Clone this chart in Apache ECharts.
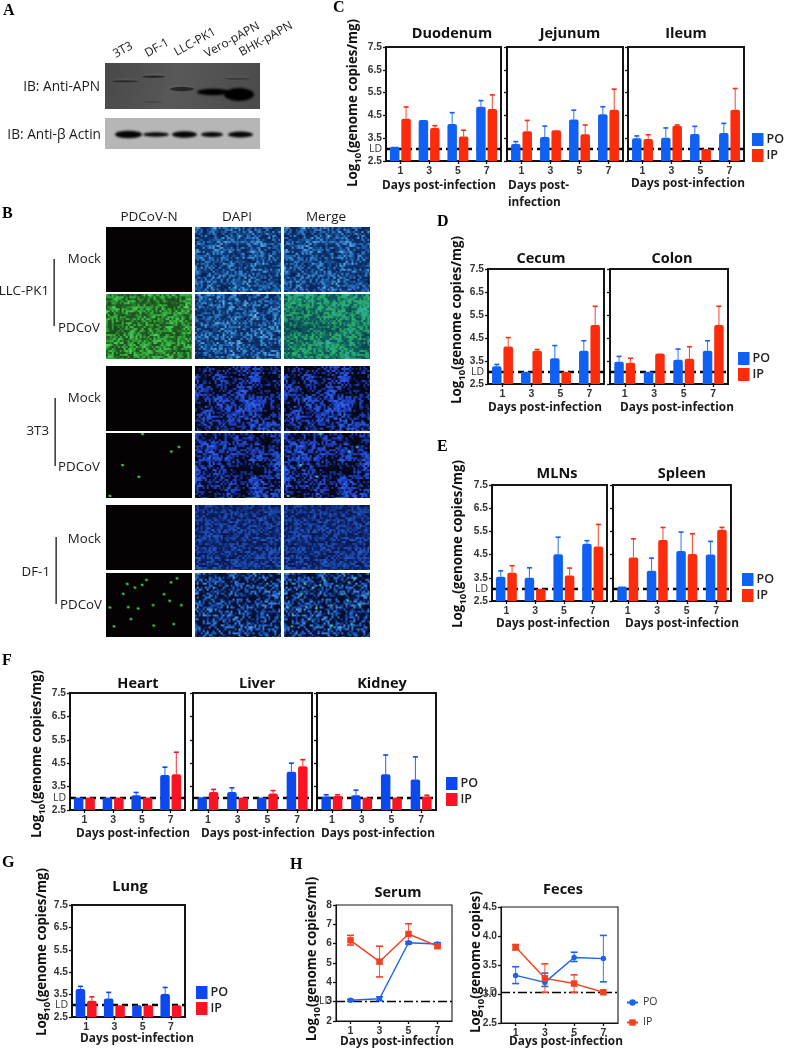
<!DOCTYPE html>
<html><head><meta charset="utf-8">
<style>html,body{margin:0;padding:0;background:#fff}#c{width:785px;height:1050px}</style>
<script src="https://cdn.jsdelivr.net/npm/echarts@6/dist/echarts.min.js"></script>
</head><body><div id="c"></div>
<script>
// ---------- data ----------
const days = ['1','3','5','7'];
const LD = 3.03;
const logTicks = [2.5,3.5,4.5,5.5,6.5,7.5];
const serumTicks = [2,3,4,5,6,7,8];
const fecesTicks = [2.5,3,3.5,4,4.5];

const duodenumPO=[3.13,4.3,4.12,4.88],  duodenumPOTop=[3.15,4.32,4.62,5.15];
const duodenumIP=[4.35,3.95,3.57,4.78], duodenumIPTop=[4.87,4.05,3.85,5.4];
const jejunumPO=[3.25,3.55,4.32,4.55],  jejunumPOTop=[3.35,4.03,4.73,4.88];
const jejunumIP=[3.8,3.85,3.67,4.75],   jejunumIPTop=[4.28,3.87,4.08,5.65];
const ileumPO=[3.5,3.52,3.68,3.73],     ileumPOTop=[3.6,3.95,4.02,4.15];
const ileumIP=[3.47,4.05,3.03,4.75],    ileumIPTop=[3.65,4.08,3.03,5.68];
const cecumPO=[3.27,3.03,3.62,3.95],    cecumPOTop=[3.35,3.03,4.17,4.38];
const cecumIP=[4.13,3.95,3.03,5.07],    cecumIPTop=[4.52,4.0,3.03,5.88];
const colonPO=[3.47,3.03,3.55,3.95],    colonPOTop=[3.7,3.05,4.02,4.38];
const colonIP=[3.42,3.83,3.6,5.07],     colonIPTop=[3.62,3.85,4.12,5.88];
const mlnPO=[3.55,3.5,4.52,4.97],       mlnPOTop=[3.8,3.93,5.25,5.1];
const mlnIP=[3.72,3.03,3.6,4.85],       mlnIPTop=[4.02,3.03,3.92,5.8];
const spleenPO=[3.13,3.8,4.65,4.5],     spleenPOTop=[3.15,4.35,5.47,5.07];
const spleenIP=[4.37,5.13,4.53,5.57],   spleenIPTop=[5.18,5.67,5.4,5.67];
const heartPO=[3.03,3.03,3.13,4.0],     heartPOTop=[3.03,3.03,3.25,4.33];
const heartIP=[3.03,3.03,3.03,4.03],    heartIPTop=[3.03,3.03,3.03,4.97];
const liverPO=[3.05,3.27,3.03,4.13],    liverPOTop=[3.05,3.45,3.03,4.5];
const liverIP=[3.27,3.03,3.2,4.37],     liverIPTop=[3.38,3.03,3.33,4.65];
const kidneyPO=[3.08,3.13,4.03,3.8],    kidneyPOTop=[3.15,3.35,4.85,4.77];
const kidneyIP=[3.1,3.03,3.03,3.08],    kidneyIPTop=[3.15,3.03,3.03,3.13];
const lungPO=[3.75,3.33,3.03,3.53],     lungPOTop=[3.87,3.6,3.03,3.82];
const lungIP=[3.22,3.03,3.03,3.03],     lungIPTop=[3.4,3.03,3.03,3.03];

const serumPO=[3.07,3.15,6.05,5.98], serumPOLow=[3.02,3.05,6.0,5.91], serumPOHigh=[3.12,3.25,6.1,6.05];
const serumIP=[6.17,5.07,6.5,5.87],  serumIPLow=[5.93,4.28,5.98,5.79], serumIPHigh=[6.43,5.87,7.03,5.95];
const fecesPO=[3.32,3.2,3.63,3.61],  fecesPOLow=[3.18,3.13,3.56,3.21], fecesPOHigh=[3.47,3.36,3.72,4.01];
const fecesIP=[3.81,3.27,3.18,3.03], fecesIPLow=[3.76,3.03,3.03,3.02], fecesIPHigh=[3.85,3.52,3.33,3.04];

// ---------- layout ----------
const SANS="'Open Sans',sans-serif", ARIAL="'Liberation Sans',sans-serif", SERIF="'Liberation Serif',serif";
const warm={po:'#1160f4',ip:'#fb2b0c'}, cool={po:'#0b49ee',ip:'#fa1322'};
const barPanels=[
 {t:'Duodenum',po:duodenumPO,pt:duodenumPOTop,ip:duodenumIP,it:duodenumIPTop,box:[386,47,115,114],tc:[447,29],xn:[439,186],lab:1,col:warm,yn:[353,103],leg:[752,133]},
 {t:'Jejunum',po:jejunumPO,pt:jejunumPOTop,ip:jejunumIP,it:jejunumIPTop,box:[507,47,116,114],tc:[565,29],xn:null,col:warm},
 {t:'Ileum',po:ileumPO,pt:ileumPOTop,ip:ileumIP,it:ileumIPTop,box:[628,47,116,114],tc:[681,29],xn:[688,184],col:warm},
 {t:'Cecum',po:cecumPO,pt:cecumPOTop,ip:cecumIP,it:cecumIPTop,box:[488,269,116,115],tc:[536,254],xn:[545,408],lab:1,col:warm,yn:[457,320],leg:[738,352]},
 {t:'Colon',po:colonPO,pt:colonPOTop,ip:colonIP,it:colonIPTop,box:[610,269,118,115],tc:[667,254],xn:[677,408],col:warm},
 {t:'MLNs',po:mlnPO,pt:mlnPOTop,ip:mlnIP,it:mlnIPTop,box:[492,485,115,116],tc:[552,469],xn:[553,624],lab:1,col:warm,yn:[458,544],leg:[742,573]},
 {t:'Spleen',po:spleenPO,pt:spleenPOTop,ip:spleenIP,it:spleenIPTop,box:[613,485,118,116],tc:[677,469],xn:[682,624],col:warm},
 {t:'Heart',po:heartPO,pt:heartPOTop,ip:heartIP,it:heartIPTop,box:[70,693,115,117],tc:[133,679],xn:[133,834],lab:1,col:cool,yn:[37,754],leg:[446,777]},
 {t:'Liver',po:liverPO,pt:liverPOTop,ip:liverIP,it:liverIPTop,box:[193,693,119,117],tc:[252,679],xn:[258,834],col:cool},
 {t:'Kidney',po:kidneyPO,pt:kidneyPOTop,ip:kidneyIP,it:kidneyIPTop,box:[317,693,119,117],tc:[377,679],xn:[378,834],col:cool},
 {t:'Lung',po:lungPO,pt:lungPOTop,ip:lungIP,it:lungIPTop,box:[72,905,113,112],tc:[125,882],xn:[137,1039],lab:1,col:cool,yn:[42,952],leg:[196,986]}
];
const linePanels=[
 {t:'Serum',po:serumPO,pl:serumPOLow,ph:serumPOHigh,ip:serumIP,il:serumIPLow,ih:serumIPHigh,box:[336,905,116,116],tc:[393,888],xn:[397,1042],yn:[312,959],ticks:serumTicks,min:2,max:8,yname:'(genome copies/ml)'},
 {t:'Feces',po:fecesPO,pl:fecesPOLow,ph:fecesPOHigh,ip:fecesIP,il:fecesIPLow,ih:fecesIPHigh,box:[501,907,117,116],tc:[558,885],xn:[566,1042],yn:[476,962],ticks:fecesTicks,min:2.5,max:4.5,yname:'(genome copies)'}
];

const grid=[],xAxis=[],yAxis=[],series=[],title=[],legend=[],graphic=[];
function txt(text,x,y,o){o=o||{};graphic.push({type:'text',x,y,rotation:o.rot||0,z:50,silent:true,style:{
  text,align:o.align||'center',verticalAlign:'middle',font:o.font||('700 11.8px '+SANS),fill:o.fill||'#1a1a1a',lineHeight:o.lh,rich:o.rich}});}
function yTitle(x,y,tail){txt('{a|Log}{b|10}{a|'+tail+'}',x,y,{rot:Math.PI/2,rich:{
  a:{font:'700 13.3px '+SANS,fill:'#111',verticalAlign:'middle',lineHeight:20},
  b:{font:'700 9.5px '+SANS,fill:'#111',verticalAlign:'bottom',lineHeight:14}}});}
function rectG(x,y,w,h,fill){graphic.push({type:'rect',silent:true,z:40,shape:{x,y,width:w,height:h},style:{fill}});}

function addAxes(p,ticks,min,max,showLab,bw){
  const b=p.box; const k=grid.length;
  grid.push({show:true,left:b[0],top:b[1],width:b[2],height:b[3],borderColor:'#161616',borderWidth:bw,backgroundColor:'transparent'});
  xAxis.push({type:'category',gridIndex:k,data:days,boundaryGap:true,
    axisLine:{show:true,onZero:false,lineStyle:{color:'#111',width:bw}},
    axisTick:{show:true,alignWithLabel:true,length:3,lineStyle:{color:'#111',width:1.3}},
    axisLabel:{show:true,interval:0,margin:5,fontFamily:ARIAL,fontWeight:'bold',fontSize:10.5,color:'#333'},splitLine:{show:false}});
  yAxis.push({type:'value',gridIndex:k,min,max,splitLine:{show:false},
    axisLine:{show:true,lineStyle:{color:'#111',width:bw}},
    axisTick:{show:true,customValues:ticks,length:3,lineStyle:{color:'#111',width:1.3}},
    axisLabel:{show:!!showLab,customValues:ticks.concat([LD]).sort((a,c)=>a-c),margin:4,hideOverlap:false,showMinLabel:true,showMaxLabel:true,
      fontFamily:ARIAL,fontWeight:'bold',fontSize:10.2,color:'#333',
      formatter:v=>Math.abs(v-LD)<1e-6?'{ld|LD}':(max===8?String(v):v.toFixed(1)),
      rich:{ld:{fontFamily:SANS,fontWeight:'normal',fontSize:10.5,color:'#333'}}}});
  title.push({text:p.t,left:p.tc[0],top:p.tc[1],textAlign:'center',textVerticalAlign:'middle',
    textStyle:{fontFamily:SANS,fontWeight:700,fontSize:14.5,color:'#111'}});
  return k;
}
function errItem(side,capW,lw){
  return (params,api)=>{
    const c=api.value(0), a=api.coord([c,api.value(1)]), t=api.coord([c,api.value(2)]);
    if(Math.abs(a[1]-t[1])<0.6) return {type:'group',children:[]};
    const x=a[0]+side, color=api.visual('color');
    return {type:'group',children:[
      {type:'line',shape:{x1:x,y1:a[1],x2:x,y2:t[1]},style:{stroke:color,lineWidth:lw,opacity:0.8}},
      {type:'line',shape:{x1:x-capW/2,y1:t[1],x2:x+capW/2,y2:t[1]},style:{stroke:color,lineWidth:1.6}}
    ]};
  };
}
function ldSeries(k,dash,w){
  series.push({name:'LD',type:'line',xAxisIndex:k,yAxisIndex:k,data:[],z:1,silent:true,
    markLine:{silent:true,z:1,symbol:'none',animation:false,label:{show:false},data:[{yAxis:LD}],
      lineStyle:{color:'#000',type:dash,width:w}}});
}
barPanels.forEach(p=>{
  const k=addAxes(p,logTicks,2.5,7.5,p.lab,2);
  ldSeries(k,[6,4],2.4);
  [['PO',p.po,p.pt,p.col.po,-5.7],['IP',p.ip,p.it,p.col.ip,5.7]].forEach(s=>{
    series.push({name:s[0],type:'bar',xAxisIndex:k,yAxisIndex:k,data:s[1],barWidth:9.5,barGap:'20%',z:3,
      itemStyle:{color:s[3],borderRadius:[2,2,0,0]}});
    series.push({name:s[0]+' err',type:'custom',xAxisIndex:k,yAxisIndex:k,z:2,
      data:s[1].map((v,i)=>[i,v,s[2][i]]),encode:{x:0,y:[1,2]},
      renderItem:errItem(s[4],5,1.1),itemStyle:{color:s[3]}});
  });
  if(p.xn) txt('Days post-infection',p.xn[0],p.xn[1]);
  if(p.yn) yTitle(p.yn[0],p.yn[1],'(genome copies/mg)');
  if(p.leg) legend.push({show:true,orient:'vertical',left:p.leg[0],top:p.leg[1],itemWidth:11.5,itemHeight:13,itemGap:3,padding:0,
    icon:'rect',selectedMode:false,
    data:[{name:'PO',itemStyle:{color:p.col.po}},{name:'IP',itemStyle:{color:p.col.ip}}],
    textStyle:{fontFamily:SANS,fontWeight:600,fontSize:12.5,color:'#222',padding:[0,0,0,-2]}});
});
txt('Days post-\ninfection',508,194.5,{align:'left',lh:17});

linePanels.forEach(p=>{
  const k=addAxes(p,p.ticks,p.min,p.max,true,1.1);
  ldSeries(k,[9,3,2,3],1.3);
  [['PO line',p.po,p.pl,p.ph,'#1b63ea','circle',5.5],['IP line',p.ip,p.il,p.ih,'#f5401f','rect',6.5]].forEach(s=>{
    series.push({name:s[0]+' low',type:'custom',xAxisIndex:k,yAxisIndex:k,z:4,
      data:s[1].map((v,i)=>[i,v,s[2][i]]),encode:{x:0,y:[1,2]},renderItem:errItem(0,7,1.1),itemStyle:{color:s[4]}});
    series.push({name:s[0]+' high',type:'custom',xAxisIndex:k,yAxisIndex:k,z:4,
      data:s[1].map((v,i)=>[i,v,s[3][i]]),encode:{x:0,y:[1,2]},renderItem:errItem(0,7,1.1),itemStyle:{color:s[4]}});
    series.push({name:s[0],type:'line',xAxisIndex:k,yAxisIndex:k,data:s[1],z:5,symbol:s[5],symbolSize:s[6],
      lineStyle:{color:s[4],width:1.4},itemStyle:{color:s[4]}});
  });
  txt('Days post-infection',p.xn[0],p.xn[1]);
  yTitle(p.yn[0],p.yn[1],p.yname);
});
legend.push({show:true,orient:'vertical',left:626,top:997,itemWidth:11,itemHeight:8,itemGap:9,padding:0,selectedMode:false,
  data:['PO line','IP line'],formatter:n=>n.split(' ')[0],
  textStyle:{fontFamily:SANS,fontSize:10.5,color:'#333'}});

// ---------- panel letters ----------
[['A',3,11],['B',2,214],['C',333,8],['D',437,222],['E',437,447],['F',2,661],['G',2,863],['H',290,865]]
 .forEach(l=>txt(l[0],l[1],l[2],{align:'left',font:'bold 16px '+SERIF,fill:'#000'}));

// ---------- panel A: immunoblot picture ----------
function mk(w,h){const c=document.createElement('canvas');c.width=w;c.height=h;return c;}
function band(g,x,y,w,h,col,blur){g.save();g.filter='blur('+blur+'px)';g.fillStyle=col;g.beginPath();
  g.ellipse(x+w/2,y,w/2,h/2,0,0,Math.PI*2);g.fill();g.restore();}
(function(){
  const W=155,H=46,c=mk(W,H),g=c.getContext('2d');
  const gr=g.createLinearGradient(0,0,W,H);gr.addColorStop(0,'#484848');gr.addColorStop(.45,'#585858');gr.addColorStop(1,'#4a4a4a');
  g.fillStyle=gr;g.fillRect(0,0,W,H);
  const ox=105,oy=63;
  [[112,81.3,26,2,'#2a2a2a',.25],[142,76.7,23,2.5,'#262626',.25],[226,78.7,24,2,'#3a3a3a',.2],[170,89,24,4.5,'#282828',.2],[143,102,20,1.5,'#454545',0]].forEach(b=>{
    g.globalAlpha=b[5];band(g,b[0]-ox,b[1]-oy-1.2,b[2],b[3],'#909090',1.2);g.globalAlpha=1;band(g,b[0]-ox,b[1]-oy,b[2],b[3],b[4],.7);});
  band(g,197-ox,92-oy,32,6.5,'#000',.9);band(g,224-ox,94.5-oy,30,13,'#000',1.2);
  graphic.push({type:'image',silent:true,z:30,style:{image:c,x:ox,y:oy,width:W,height:H}});
  const c2=mk(155,31),h=c2.getContext('2d');h.fillStyle='#b6b6b6';h.fillRect(0,0,155,31);
  [[115,27,7.5],[143,26,4.5],[172,25,6.5],[201,22,5],[228,25,6]].forEach(b=>band(h,b[0]-ox,134.5-118,b[1],b[2],'#050505',.9));
  graphic.push({type:'image',silent:true,z:30,style:{image:c2,x:ox,y:118,width:155,height:31}});
})();
txt('IB: Anti-APN',100,87,{align:'right',font:'13.7px '+SANS,fill:'#1a1a1a'});
txt('IB: Anti-β Actin',101,135,{align:'right',font:'13.7px '+SANS,fill:'#1a1a1a'});
[['3T3',123,50],['DF-1',157,48],['LLC-PK1',195,42],['Vero-pAPN',232,40],['BHK-pAPN',266,39]]
 .forEach(l=>txt(l[0],l[1],l[2],{rot:Math.PI/6.2,font:'12px '+SANS,fill:'#1a1a1a'}));

// ---------- panel B: micrograph pictures (texture only, not chart data) ----------
function hash(x,y,s){let h=(Math.imul(x,374761393)+Math.imul(y,668265263)+Math.imul(s,2147483))|0;
  h=Math.imul(h^(h>>>13),1274126177);h^=h>>>16;h=Math.imul(h,2246822519);h^=h>>>13;return (h>>>0)/4294967296;}
function vn(x,y,s){const i=Math.floor(x),j=Math.floor(y);let u=x-i,v=y-j;u=u*u*(3-2*u);v=v*v*(3-2*v);
  const a=hash(i,j,s),b=hash(i+1,j,s),c=hash(i,j+1,s),d=hash(i+1,j+1,s);
  return (a+(b-a)*u)*(1-v)+(c+(d-c)*u)*v;}
function rgb(h){return [1,3,5].map(i=>parseInt(h.substr(i,2),16));}
function ramp(st,t){t=Math.max(0,Math.min(1,t));for(let i=1;i<st.length;i++){if(t<=st[i][0]){
  const a=st[i-1],b=st[i],f=(t-a[0])/(b[0]-a[0]),A=rgb(a[1]),B=rgb(b[1]);
  return 'rgb('+A.map((v,n)=>Math.round(v+(B[n]-v)*f)).join(',')+')';}}return st[st.length-1][1];}
function field(stops,seed,low,hi,scale,tile){
  const W=87,H=65,r=mk(W,H),g=r.getContext('2d');
  for(let y=0;y<H;y+=tile)for(let x=0;x<W;x+=tile){
    const t=low*vn(x/scale,y/scale,seed)+hi*hash(x,y,seed)+(1-low-hi)*vn(x/4,y/4,seed+3);
    g.fillStyle=ramp(stops,t);g.fillRect(x,y,tile,tile);}
  const o=mk(W,H),q=o.getContext('2d');q.filter='blur(0.5px)';q.drawImage(r,0,0);return o;
}
const llcBlue=[[0,'#06164a'],[.42,'#0e3570'],[.58,'#1a5aa4'],[.76,'#3488cc'],[1,'#8fdcf6']];
const llcGreen=[[0,'#17401a'],[.4,'#225a22'],[.54,'#2a9034'],[.72,'#3cbc48'],[1,'#66e072']];
const llcMerge=[[0,'#082a42'],[.4,'#0f6060'],[.54,'#1a9068'],[.68,'#2eae60'],[.82,'#2ea8a0'],[1,'#50c0e4']];
const t3Blue=[[0,'#02040c'],[.44,'#050a20'],[.54,'#1630a0'],[.72,'#2350d8'],[1,'#3a78f4']];
const df1Mock=[[0,'#061040'],[.4,'#0c2468'],[.6,'#153a98'],[1,'#2a62cc']];
const df1Inf=[[0,'#030a22'],[.48,'#06123c'],[.6,'#103a90'],[.78,'#1f64c4'],[1,'#60a8ea']];
const spots3T3=[[428,702],[515,755],[538,741],[368,796],[417,831],[330,889]];
const spotsDF1=[[382,1152],[405,1163],[440,1140],[427,1155],[514,1147],[532,1135],[370,1182],[493,1183],[510,1203],[545,1216],[460,1216],[330,1223],[385,1222],[415,1226],[393,1258],[342,1280],[462,1278],[522,1273]];
const colX=[105.7,194.7,283.7], rowY=[227,294.3,366,433.3,505.3,572.7];
function place(c,col,row){graphic.push({type:'image',silent:true,z:30,style:{image:c,x:colX[col],y:rowY[row],width:86.6,height:64.6}});}
function blackField(spots,rowIdx){const c=mk(87,65),g=c.getContext('2d');g.fillStyle='#050203';g.fillRect(0,0,87,65);
  if(spots){g.filter='blur(0.5px)';g.fillStyle='#45e85a';spots.forEach(s=>{g.beginPath();g.ellipse(s[0]/3-colX[0],s[1]/3+200-rowY[rowIdx],1.5,1.1,0.3,0,Math.PI*2);g.fill();});}
  return c;}
function addSpots(base,spots,rowIdx){const c=mk(87,65),g=c.getContext('2d');g.drawImage(base,0,0);g.filter='blur(0.5px)';g.fillStyle='#50e0a0';
  spots.forEach(s=>{g.beginPath();g.ellipse(s[0]/3-colX[0],s[1]/3+200-rowY[rowIdx],1.3,1,0.3,0,Math.PI*2);g.fill();});return c;}
[0,2,4].forEach(r=>place(blackField(null,r),0,r));
place(field(llcGreen,5,.3,.55,8,2),0,1);
place(blackField(spots3T3,3),0,3);
place(blackField(spotsDF1,5),0,5);
const f0=field(llcBlue,1,.2,.65,10,2);place(f0,1,0);place(f0,2,0);
place(field(llcBlue,2,.2,.65,10,2),1,1);place(field(llcMerge,2,.35,.5,16,2),2,1);
const f2=field(t3Blue,7,.42,.5,12,2);place(f2,1,2);place(f2,2,2);
const f3=field(t3Blue,8,.42,.5,12,2);place(f3,1,3);place(addSpots(f3,spots3T3,3),2,3);
const f4=field(df1Mock,4,.06,.85,9,2);place(f4,1,4);place(f4,2,4);
const f5=field(df1Inf,6,.1,.82,9,2);place(f5,1,5);place(addSpots(f5,spotsDF1,5),2,5);
[['PDCoV-N',149,217],['DAPI',237,217],['Merge',326,217]].forEach(l=>txt(l[0],l[1],l[2],{font:'13.5px '+SANS}));
[['Mock',101,259],['PDCoV',100,328],['Mock',101,398],['PDCoV',100,467],['Mock',101,539],['PDCoV',102,605],
 ['LLC-PK1',49,291],['3T3',49,431],['DF-1',50,572]].forEach(l=>txt(l[0],l[1],l[2],{align:'right',font:'13.3px '+SANS}));
[[53.4,259,326],[54.4,398,466],[55.4,537,604]].forEach(s=>rectG(s[0],s[1],1.5,s[2]-s[1],'#333'));

const chart=echarts.init(document.getElementById('c'),null,{width:785,height:1050,renderer:'canvas'});
chart.setOption({animation:false,backgroundColor:'#fff',title,legend,grid,xAxis,yAxis,series,graphic:{elements:graphic},tooltip:{show:false}});
</script></body></html>
